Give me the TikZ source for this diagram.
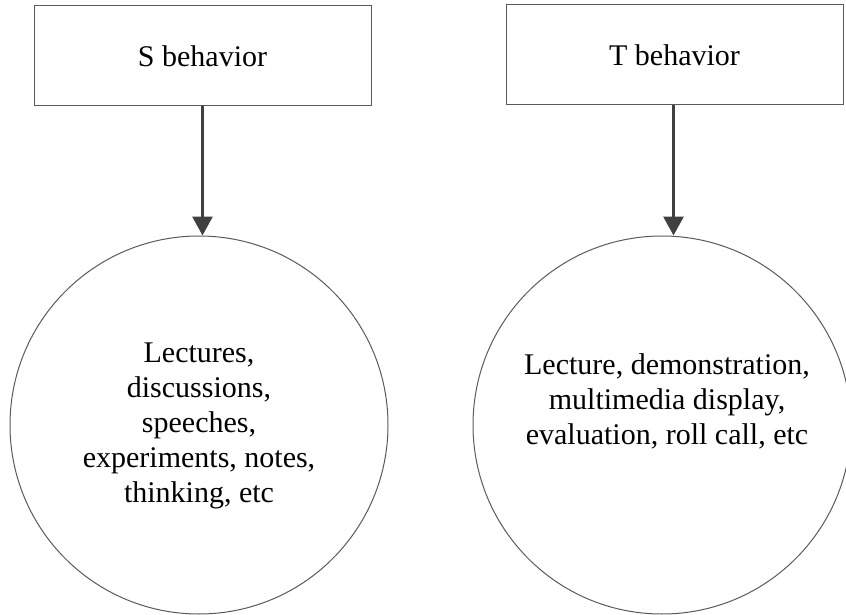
\documentclass[tikz,border=0pt]{standalone}
\usepackage{fontspec}
\setmainfont{Liberation Serif}
\usetikzlibrary{arrows.meta}
\definecolor{edgegray}{HTML}{5A5A5A}
\definecolor{arrowgray}{HTML}{404040}
\tikzset{
  behavior/.style={draw=edgegray, line width=1pt, rectangle, minimum width=337pt,
    minimum height=100pt, inner sep=0pt, font=\fontsize{30}{35}\selectfont},
  bubble/.style={draw=edgegray, line width=1pt, circle, minimum size=378pt, inner sep=0pt},
  bubbletext/.style={align=center, inner sep=0pt, font=\fontsize{30}{35}\selectfont},
  flow/.style={draw=arrowgray, line width=3pt, -{Triangle[width=20pt,length=19pt]}}
}
\begin{document}
\begin{tikzpicture}[x=1pt, y=-1pt]
  \useasboundingbox (0,0) rectangle (846,615);
  % top boxes
  \node[behavior] (sbox) at (202.5,56) {S behavior};
  \node[behavior] (tbox) at (674.5,55) {T behavior};
  % circles
  \node[bubble] (scirc) at (199,425) {};
  \node[bubble] (tcirc) at (662,425) {};
  % texts inside the circles
  \node[bubbletext] (stext) at (199,426) {Lectures,\\discussions,\\speeches,\\experiments, notes,\\thinking, etc};
  \node[bubbletext] (ttext) at (667,401) {Lecture, demonstration,\\multimedia display,\\evaluation, roll call, etc};
  % connectors
  \draw[flow] (sbox.south) -- (sbox.south |- scirc.north);
  \draw[flow] ([xshift=-1pt]tbox.south) -- ([xshift=-1pt]tbox.south |- tcirc.north);
\end{tikzpicture}
\end{document}
